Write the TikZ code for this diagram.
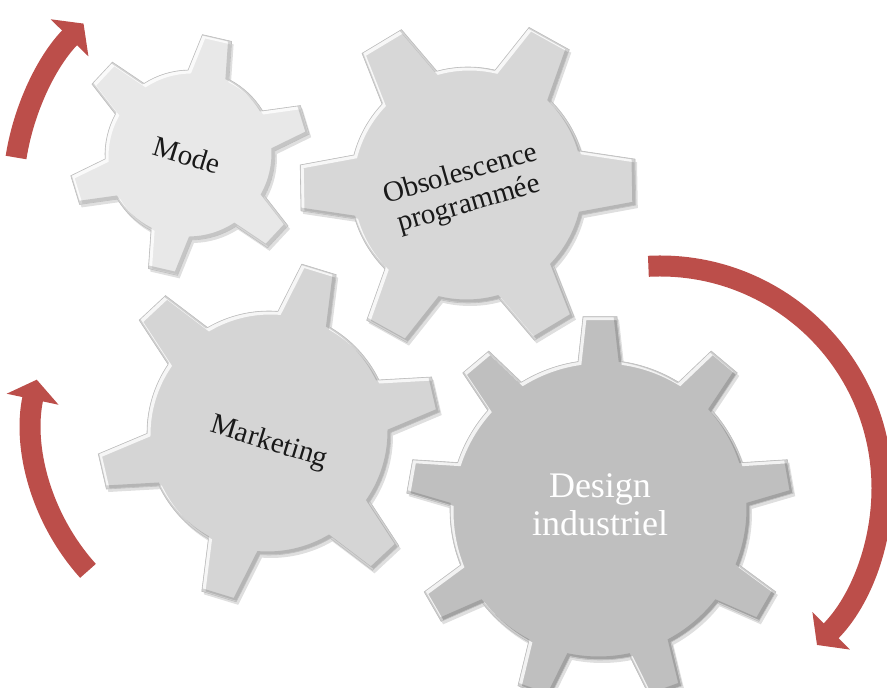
\documentclass[tikz,border=0pt]{standalone}
\usepackage{fontspec}
\setmainfont{Liberation Serif}
\usepackage{tikz}
\usetikzlibrary{arrows.meta,shadows}
\usepackage{xcolor}

\definecolor{modegray}{RGB}{232,232,232}
\definecolor{obsogray}{RGB}{215,215,215}
\definecolor{markgray}{RGB}{213,213,213}
\definecolor{designgray}{RGB}{191,191,191}
\definecolor{arrowred}{RGB}{188,78,74}

\newcommand{\gearpath}{({\goff-\gab}:\grb)
  \foreach \k in {1,...,\gn}{
    -- ({\goff+(\k-1)*\gstep-\gat}:\grt) -- ({\goff+(\k-1)*\gstep+\gat}:\grt)
    -- ({\goff+(\k-1)*\gstep+\gab}:\grb)
    arc[start angle={\goff+(\k-1)*\gstep+\gab},end angle={\goff+\k*\gstep-\gab},radius=\grb]
  } -- cycle}

\newcommand{\gear}[8]{%
  \def\gn{#2}\def\goff{#3}\def\grb{#4}\def\grt{#5}
  \pgfmathsetmacro\gstep{360/#2}
  \pgfmathsetmacro\gab{asin(#6/#4)}
  \pgfmathsetmacro\gat{asin(#7/#5)}
  \begin{scope}[shift={#1}]
    \fill[#8,drop shadow={opacity=.25,shadow xshift=2pt,shadow yshift=-3pt}] \gearpath;
    \begin{scope}
      \clip \gearpath;
      \draw[white,line width=4pt,opacity=.8,shift={(1.5,-1.5)}] \gearpath;
      \draw[black,line width=4pt,opacity=.15,shift={(-1.5,1.5)}] \gearpath;
    \end{scope}
    \draw[black!25,line width=.6pt] \gearpath;
  \end{scope}}

\begin{document}
\begin{tikzpicture}[x=1pt,y=1pt,
  cogtext/.style={font=\fontsize{29}{31}\selectfont,text=black!90,align=center},
  turn/.style={draw=arrowred,line width=21pt,-{Triangle[length=20pt,width=52pt]}}]
\useasboundingbox (0,0) rectangle (887,688);
\gear{(190,533)}{6}{17}{85}{121}{21}{15}{modegray}
\gear{(468,503)}{6}{1}{118}{169}{32}{23}{obsogray}
\gear{(269,255)}{6}{13}{122}{172}{27}{18}{markgray}
\gear{(600,178)}{9}{10}{150}{194}{22}{17}{designgray}
\node[cogtext,rotate=-17] (mode) at (187,533) {Mode};
\node[cogtext,rotate=16] (obso) at (465,498) {Obsolescence\\programmée};
\node[cogtext,rotate=-17] (mkt) at (269,245) {Marketing};
\node[cogtext,text=white,font=\fontsize{36}{38}\selectfont] (design) at (600,183) {Design\\industriel};
\coordinate (turnA) at (259,492);
\coordinate (turnB) at (250,263);
\coordinate (turnC) at (660,200);
\draw[turn] (turnA) ++(171:246) arc[start angle=171,end angle=135.5,radius=246];
\draw[turn] (turnB) ++(222:218) arc[start angle=222,end angle=168,radius=218];
\draw[turn] (turnC) ++(93:222) arc[start angle=93,end angle=-45,radius=222];
\end{tikzpicture}
\end{document}
